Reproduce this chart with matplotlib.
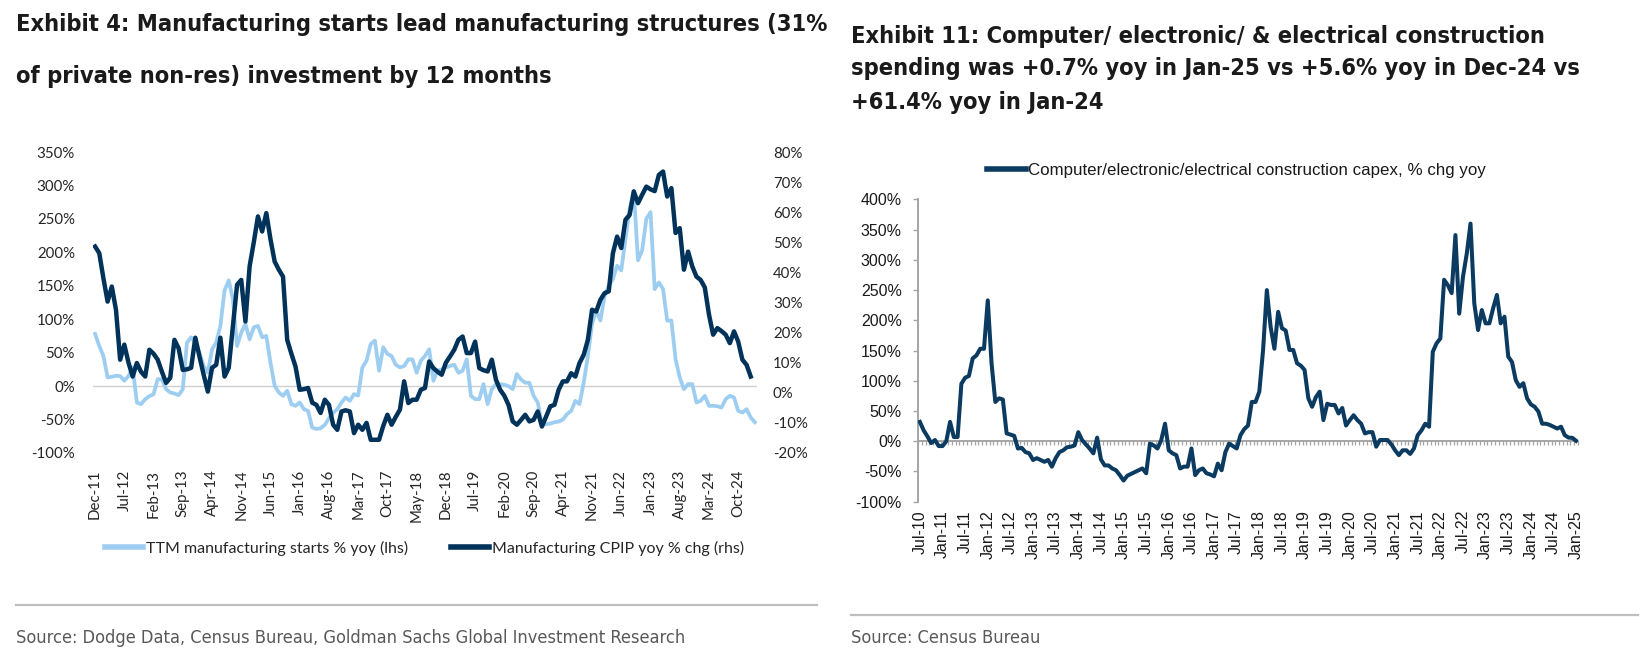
import matplotlib
matplotlib.use('Agg')
import matplotlib.pyplot as plt
import numpy as np
import pandas as pd
from matplotlib.ticker import FuncFormatter, MultipleLocator
from matplotlib.lines import Line2D
from matplotlib import font_manager as fm

plt.rcParams['axes.unicode_minus'] = False

# ---------------- DATA ----------------
# Exhibit 4: monthly, Dec-11 .. Feb-25
left_months = [d.strftime('%b-%y') for d in pd.date_range('2011-12-01', '2025-02-01', freq='MS')]

ttm_starts_lhs = [
    78, 60, 45, 13, 14, 15.4, 15, 8, 15, 28,
    -24.5, -27, -19.5, -15, -12, 10.5, 10, -4.5, -9.5, -11,
    -13.5, -4.5, 65, 73, 65, 50, 30, 20, 55, 65,
    90, 143, 158, 130, 60, 80, 93, 70, 88, 90,
    73, 75, 35, 0.5, -9.5, -14.5, -7, -27, -29.5, -24.5,
    -34.5, -37, -62, -64, -63, -58, -48, -40, -34.5, -24.5,
    -17, -22, -12, -14, 28, 38, 63, 68, 23, 58,
    48, 45, 32, 28, 30, 40, 40, 20, 38, 45,
    55, 8, 23, 25, 28, 30, 32, 20, 23, 40,
    -14.5, -19.5, -19.5, 3, -27, -4.5, 3, 3, 2, 0,
    -4.5, 18, 10, 5, 5, -14.5, -24.5, -57, -57, -56,
    -54, -53, -50, -42, -37, -22, -27, 5, 45, 93,
    113, 98, 135, 150, 160, 180, 173, 220, 265, 292,
    188, 203, 250, 260, 145, 155, 145, 98, 98, 40,
    13, -4.5, 3, 3, -24.5, -22, -14.5, -29.5, -29.5, -30,
    -32, -19.5, -14.5, -17, -37, -39.5, -34.5, -47, -54]

cpip_rhs = [
    48.6, 46.4, 38.0, 30.3, 35.3, 27.6, 11.0, 16.0, 10.0, 5.4,
    9.9, 7.0, 5.4, 14.3, 13.0, 11.0, 7.0, 3.3, 5.0, 17.6,
    14.8, 7.6, 7.8, 8.3, 18.3, 12.0, 6.0, 0.4, 8.3, 9.3,
    18.3, 5.4, 8.3, 22.0, 35.9, 37.5, 23.7, 42.0, 50.0, 58.6,
    53.6, 59.7, 51.0, 43.6, 40.9, 38.6, 17.6, 13.0, 8.7, 1.0,
    1.2, 1.6, -3.3, -4.0, -6.7, -2.3, -4.0, -10.6, -12.3, -6.2,
    -5.8, -6.2, -13.4, -10.6, -12.3, -10.0, -15.6, -15.6, -15.6, -11.0,
    -7.3, -10.6, -8.0, -5.6, 3.8, -3.4, -2.3, -2.3, 1.0, 1.6,
    10.4, 8.2, 7.0, 6.0, 10.0, 12.1, 14.3, 17.6, 18.7, 13.2,
    13.2, 17.0, 8.2, 7.5, 7.1, 11.0, 4.3, 1.0, -1.0, -4.0,
    -9.5, -10.6, -9.0, -7.3, -9.5, -9.0, -6.2, -11.2, -7.9, -4.5,
    -4.0, 1.0, 3.8, 3.8, 6.5, 5.4, 9.9, 12.6, 17.6, 27.6,
    27.0, 30.9, 33.1, 33.7, 46.4, 51.9, 48.1, 57.5, 59.1, 66.9,
    63.0, 65.8, 68.5, 67.6, 67.0, 72.4, 73.5, 65.2, 68.0, 53.1,
    54.7, 40.9, 46.9, 42.0, 38.6, 37.5, 35.0, 26.0, 19.3, 21.5,
    20.5, 19.3, 16.5, 20.4, 17.0, 11.0, 9.3, 5.4]

left_tick_labels = ['Dec-11', 'Jul-12', 'Feb-13', 'Sep-13', 'Apr-14', 'Nov-14', 'Jun-15',
                    'Jan-16', 'Aug-16', 'Mar-17', 'Oct-17', 'May-18', 'Dec-18', 'Jul-19',
                    'Feb-20', 'Sep-20', 'Apr-21', 'Nov-21', 'Jun-22', 'Jan-23', 'Aug-23',
                    'Mar-24', 'Oct-24']

# Exhibit 11: monthly, Jul-10 .. Jan-25
right_months = [d.strftime('%b-%y') for d in pd.date_range('2010-07-01', '2025-01-01', freq='MS')]

capex_yoy = [
    32, 18, 8, -3, 2, -8, -8, 0, 32, 7,
    7, 95, 105, 108, 137, 142, 153, 153, 233, 129,
    65, 71, 69, 13, 11, 9, -12, -11, -18, -20,
    -31, -28, -31, -34, -31, -42, -28, -18, -15, -10,
    -9, -7, 15, 2, -5, -12, -20, 6, -30, -40,
    -40, -45, -48, -56, -65, -57, -54, -51, -48, -45,
    -53, -4, -7, -12, 2, 29, -15, -20, -23, -45,
    -42, -42, -12, -56, -48, -45, -53, -55, -58, -37,
    -48, -18, -4, -8, -12, 10, 20, 26, 65, 65,
    82, 151, 250, 189, 153, 214, 187, 183, 151, 151,
    129, 125, 118, 71, 57, 73, 82, 35, 62, 60,
    60, 46, 55, 26, 35, 43, 35, 29, 13, 15,
    15, -9, 2, 2, 2, -5, -15, -23, -15, -15,
    -21, -12, 10, 18, 29, 24, 148, 162, 170, 267,
    258, 245, 341, 211, 272, 310, 360, 228, 184, 217,
    195, 195, 220, 242, 195, 206, 140, 131, 101, 90,
    96, 71, 61, 57, 49, 29, 29, 27, 24, 21,
    24, 10, 6, 5.6, 0.7]

right_tick_labels = ['Jul-10', 'Jan-11', 'Jul-11', 'Jan-12', 'Jul-12', 'Jan-13', 'Jul-13',
                     'Jan-14', 'Jul-14', 'Jan-15', 'Jul-15', 'Jan-16', 'Jul-16', 'Jan-17',
                     'Jul-17', 'Jan-18', 'Jul-18', 'Jan-19', 'Jul-19', 'Jan-20', 'Jul-20',
                     'Jan-21', 'Jul-21', 'Jan-22', 'Jul-22', 'Jan-23', 'Jul-23', 'Jan-24',
                     'Jul-24', 'Jan-25']

# ---------------- FONTS ----------------
def _weight(f):
    w = f.weight
    if isinstance(w, str):
        w = {'ultralight': 200, 'light': 300, 'normal': 400, 'regular': 400, 'book': 400,
             'medium': 500, 'semibold': 600, 'demibold': 600, 'bold': 700, 'heavy': 800,
             'extra bold': 800, 'black': 900}.get(w.lower(), 400)
    return w


def find_condensed(bold):
    cands = []
    for f in fm.fontManager.ttflist:
        nm = f.name.lower()
        st = str(f.stretch).lower()
        cond = ('condensed' in st) or ('narrow' in st) or ('narrow' in nm) or ('condensed' in nm)
        if not cond or f.style != 'normal':
            continue
        w = _weight(f)
        if bold and w < 600:
            continue
        if not bold and (w >= 600 or w < 300):
            continue
        cands.append((abs(w - (700 if bold else 350)), f.fname))
    if cands:
        cands.sort()
        return fm.FontProperties(fname=cands[0][1])
    return None


TITLE_FP = find_condensed(True) or fm.FontProperties(family=['Roboto', 'DejaVu Sans'], weight='bold')
SRC_FP = find_condensed(False) or fm.FontProperties(family=['Roboto', 'DejaVu Sans'], weight='light')

# ---------------- STYLE ----------------
W, H, DPI = 1641, 667, 100
LIGHT = '#9DCEF1'
DARK = '#00325A'
NAVY = '#0B3B60'
AXGRAY = '#A5A5A5'
TXT = '#262626'
CAL = ['Lato', 'DejaVu Sans']
ARIAL = ['Liberation Sans', 'DejaVu Sans']

fig = plt.figure(figsize=(W / DPI, H / DPI), dpi=DPI)
fig.patch.set_facecolor('white')


def rect(x0, y0, x1, y1):
    return [x0 / W, 1 - y1 / H, (x1 - x0) / W, (y1 - y0) / H]


pct = FuncFormatter(lambda v, p: f'{v:.0f}%')

# ---------------- LEFT CHART ----------------
axL = fig.add_axes(rect(93, 152, 757, 453))
xL = np.arange(len(ttm_starts_lhs))
axL.axhline(0, color='#D0D0D0', lw=1.0, zorder=1)
l1, = axL.plot(xL, ttm_starts_lhs, color=LIGHT, lw=2.7, zorder=2,
               label='TTM manufacturing starts % yoy (lhs)')
axL.set_xlim(-0.5, len(left_months) - 0.5)
axL.set_ylim(-100, 350)
axL.yaxis.set_major_locator(MultipleLocator(50))
axL.yaxis.set_major_formatter(pct)
for s in axL.spines.values():
    s.set_visible(False)
axL.set_xticks([left_months.index(t) for t in left_tick_labels])
axL.set_xticklabels(left_tick_labels, rotation=90, family=CAL, fontsize=10.8, color=TXT)
axL.tick_params(axis='x', length=0, pad=12)
axL.tick_params(axis='y', length=0, pad=13, labelsize=10.8, labelcolor=TXT)
for t in axL.get_yticklabels():
    t.set_family(CAL)

axR = axL.twinx()
xR = np.arange(len(cpip_rhs))
l2, = axR.plot(xR, cpip_rhs, color=DARK, lw=3.2, zorder=3,
               label='Manufacturing CPIP yoy % chg (rhs)')
axR.set_ylim(-20, 80)
axR.yaxis.set_major_locator(MultipleLocator(10))
axR.yaxis.set_major_formatter(pct)
for s in axR.spines.values():
    s.set_visible(False)
axR.tick_params(axis='y', length=0, pad=11.5, labelsize=10.8, labelcolor=TXT)
for t in axR.get_yticklabels():
    t.set_family(CAL)

legL = fig.legend(handles=[l1, l2], loc='center left', bbox_to_anchor=(105 / W, 1 - 548 / H),
                  ncol=2, frameon=False, prop={'family': CAL, 'size': 11.5},
                  handlelength=2.4, handletextpad=0.15, columnspacing=2.7,
                  borderpad=0, borderaxespad=0)
for t in legL.get_texts():
    t.set_color(TXT)
for h in legL.legend_handles:
    h.set_linewidth(4)

# ---------------- RIGHT CHART ----------------
axC = fig.add_axes(rect(918, 199.4, 1578, 501.7))
xC = np.arange(len(capex_yoy))
lc, = axC.plot(xC, capex_yoy, color=NAVY, lw=2.9, zorder=3,
               label='Computer/electronic/electrical construction capex, % chg yoy')
axC.set_xlim(-0.5, len(right_months) - 0.5)
axC.set_ylim(-100, 400)
axC.yaxis.set_major_locator(MultipleLocator(50))
axC.yaxis.set_major_formatter(pct)
axC.spines['top'].set_visible(False)
axC.spines['right'].set_visible(False)
axC.spines['left'].set_color(AXGRAY)
axC.spines['left'].set_linewidth(1.4)
axC.spines['bottom'].set_position(('data', 0))
axC.spines['bottom'].set_color(AXGRAY)
axC.spines['bottom'].set_linewidth(1.4)
axC.spines['bottom'].set_zorder(2)
axC.set_xticks([])
axC.set_xticks(np.arange(len(right_months) + 1) - 0.5, minor=True)
axC.tick_params(axis='x', which='minor', length=3.2, width=0.9, color=AXGRAY, direction='out')
axC.tick_params(axis='y', length=3.6, width=1.0, color=AXGRAY, direction='out', pad=8,
                labelsize=11.5, labelcolor='#1a1a1a')
for t in axC.get_yticklabels():
    t.set_family(ARIAL)

sec = axC.secondary_xaxis(0)
sec.set_xticks([right_months.index(t) for t in right_tick_labels])
sec.set_xticklabels(right_tick_labels, rotation=90, family=ARIAL, fontsize=11.5, color='#1a1a1a')
sec.tick_params(axis='x', length=0, pad=6)
sec.spines['bottom'].set_visible(False)

legC = fig.legend(handles=[lc], loc='center left', bbox_to_anchor=(987 / W, 1 - 170.5 / H),
                  frameon=False, prop={'family': ARIAL, 'size': 12.2},
                  handlelength=2.3, handletextpad=0.12, borderpad=0, borderaxespad=0)
for t in legC.get_texts():
    t.set_color('#1a1a1a')
for h in legC.legend_handles:
    h.set_linewidth(4)

# ---------------- TITLES / SOURCES ----------------
renderer = fig.canvas.get_renderer()


def fitted_texts(specs, fp, color, size0=18.0):
    """specs: (x_px, y_px, text, target_width_px or None). One common font size for the group,
    fitted on the lines that have a target width."""
    objs, ratios = [], []
    for x, y, s, tw in specs:
        t = fig.text(x / W, 1 - y / H, s, fontproperties=fp, fontsize=size0, color=color,
                     va='center', ha='left')
        if tw is not None:
            w = t.get_window_extent(renderer).width
            ratios.append(tw / w)
        objs.append(t)
    r = float(np.median(ratios))
    for t in objs:
        t.set_fontsize(size0 * r)
    return objs


fitted_texts([
    (16, 25, 'Exhibit 4: Manufacturing starts lead manufacturing structures (31%', 806),
    (16, 76, 'of private non-res) investment by 12 months', 544),
    (851, 36, 'Exhibit 11: Computer/ electronic/ & electrical construction', 657),
    (851, 68, 'spending was +0.7% yoy in Jan-25 vs +5.6% yoy in Dec-24 vs', 729),
    (851, 102, '+61.4% yoy in Jan-24', 271),
], TITLE_FP, '#1a1a1a')

fig.add_artist(Line2D([16 / W, 817 / W], [1 - 605 / H, 1 - 605 / H], transform=fig.transFigure,
                      color='#BFBFBF', lw=1.6))
fig.add_artist(Line2D([851 / W, 1638 / W], [1 - 615 / H, 1 - 615 / H], transform=fig.transFigure,
                      color='#BFBFBF', lw=1.6))

fitted_texts([
    (16, 638, 'Source: Dodge Data, Census Bureau, Goldman Sachs Global Investment Research', 675),
    (851, 638, 'Source: Census Bureau', None),
], SRC_FP, '#595959', size0=14.0)

fig.savefig('out.png', dpi=DPI, facecolor='white')
